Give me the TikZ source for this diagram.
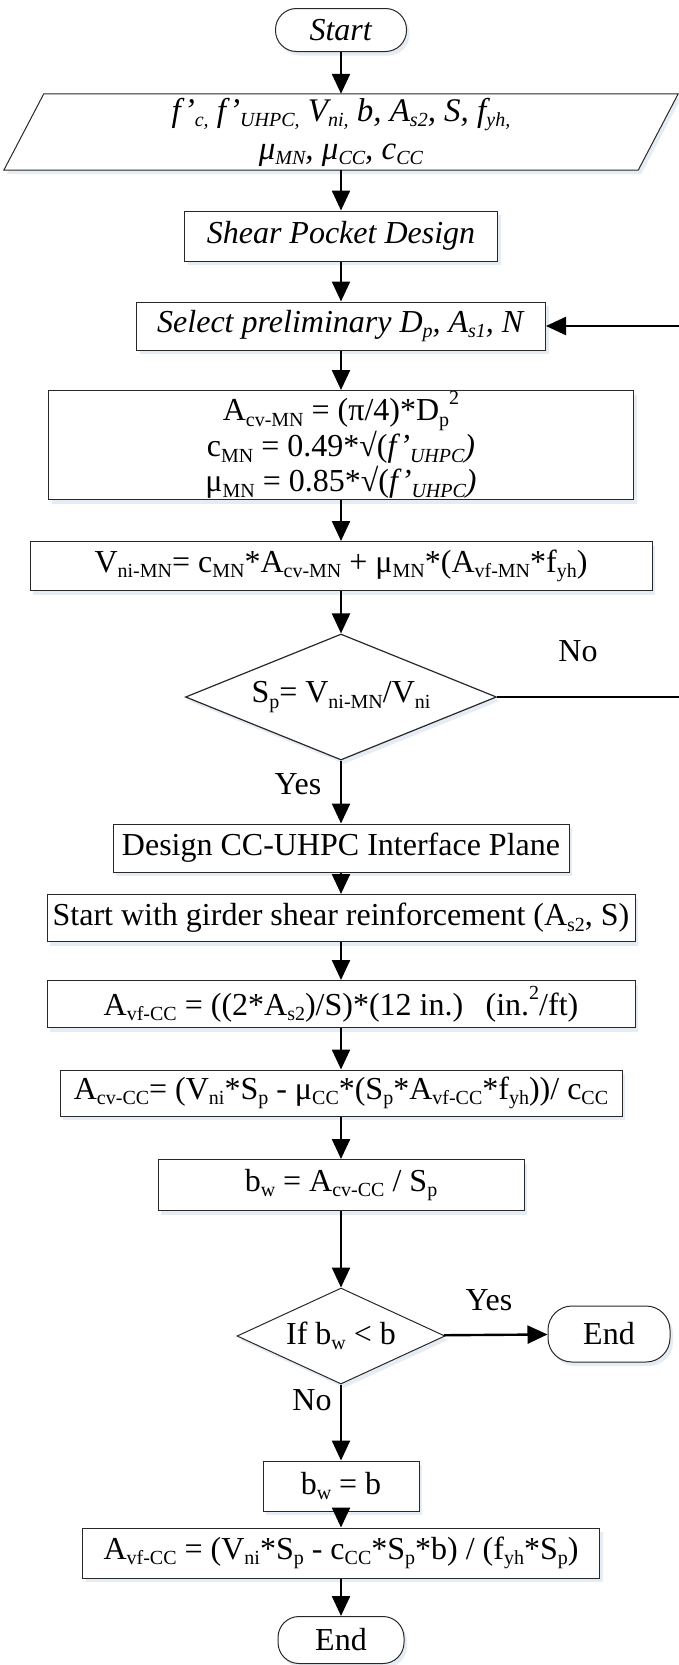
\documentclass[tikz,border=0pt]{standalone}
\usepackage{fontspec}
\setmainfont{Liberation Serif}
\usetikzlibrary{arrows.meta,shadows,backgrounds,calc,shapes.geometric}
\newcommand\dn[1]{\raisebox{-0.17em}{\fontsize{20}{20}\selectfont #1}}
\newcommand\upx[1]{\raisebox{0.5em}{\fontsize{20}{20}\selectfont #1}}
\definecolor{shadowc}{RGB}{200,212,228}
\definecolor{edgec}{RGB}{40,40,40}
\tikzset{
  myshadow/.style={drop shadow={shadow xshift=3pt, shadow yshift=-4pt, fill=shadowc, opacity=0.45}},
  base/.style={draw=edgec, line width=1pt, fill=white, inner sep=0pt, align=center,
    font=\fontsize{32}{36}\selectfont, myshadow},
  proc/.style={base, rectangle},
  term/.style={base, rounded corners=21pt},
  dec/.style={base, diamond, line width=1.2pt},
  flow/.style={line width=2.4pt, -{Triangle[length=20pt,width=18pt]}},
  plain/.style={line width=2.4pt},
  lab/.style={font=\fontsize{32}{36}\selectfont, inner sep=0pt},
}
\begin{document}
\begin{tikzpicture}[x=1pt,y=-1pt]
\useasboundingbox (0,0) rectangle (679,1665);

\node[term, minimum width=131pt, minimum height=43pt] (start) at (341,30) {\textit{Start}};

\node[inner sep=0pt, minimum width=634pt, minimum height=76pt, align=center,
  font=\fontsize{33}{38}\selectfont] (in) at (341,132)
  {\textit{f’\dn{c,} f’\dn{UHPC,} V\dn{ni,} b, A\dn{s2}, S, f\dn{yh,}}\\
   \textit{μ\dn{MN}, μ\dn{CC}, c\dn{CC}}};
\begin{scope}[on background layer]
\path[draw=edgec, line width=1pt, fill=white, myshadow]
  ($(in.south west)+(-20,0)$) -- ($(in.north west)+(20,0)$) --
  ($(in.north east)+(20,0)$) -- ($(in.south east)+(-20,0)$) -- cycle;
\end{scope}

\node[proc, minimum width=313pt, minimum height=50pt] (spd) at (341,236) {\textit{Shear Pocket Design}};
\node[proc, minimum width=409pt, minimum height=48pt] (sel) at (341,326)
  {\textit{Select preliminary D\dn{p}, A\dn{s1}, N}};
\node[proc, minimum width=585pt, minimum height=109pt, font=\fontsize{32}{35}\selectfont] (form) at (341,445)
  {A\dn{cv-MN} = (π/4)*D\dn{p}\upx{2}\\
   c\dn{MN} = 0.49*√(\textit{f’\dn{UHPC})}\\
   μ\dn{MN} = 0.85*√(\textit{f’\dn{UHPC})}};
\node[proc, minimum width=622pt, minimum height=49pt] (vni) at (341,566)
  {V\dn{ni-MN}= c\dn{MN}*A\dn{cv-MN} + μ\dn{MN}*(A\dn{vf-MN}*f\dn{yh})};
\node[dec, shape aspect=2.47, minimum width=311pt, minimum height=126pt] (d1) at (341,697)
  {S\dn{p}= V\dn{ni-MN}/V\dn{ni}};
\node[proc, minimum width=456pt, minimum height=48pt] (des) at (341,848)
  {Design CC-UHPC Interface Plane};
\node[proc, minimum width=588pt, minimum height=47pt] (gir) at (341,918)
  {Start with girder shear reinforcement (A\dn{s2}, S)};
\node[proc, minimum width=588pt, minimum height=47pt] (avf) at (341,1004)
  {A\dn{vf-CC} = ((2*A\dn{s2})/S)*(12 in.)\hspace{0.7em}(in.\upx{2}/ft)};
\node[proc, minimum width=562pt, minimum height=46pt] (acv) at (341,1093)
  {A\dn{cv-CC}= (V\dn{ni}*S\dn{p} - μ\dn{CC}*(S\dn{p}*A\dn{vf-CC}*f\dn{yh}))/ c\dn{CC}};
\node[proc, minimum width=366pt, minimum height=51pt] (bw) at (341,1185)
  {b\dn{w} = A\dn{cv-CC} / S\dn{p}};
\node[dec, shape aspect=2.17, minimum width=208pt, minimum height=96pt, line width=1pt] (d2) at (341,1336)
  {If b\dn{w} < b};
\node[term, minimum width=122pt, minimum height=56pt, rounded corners=24pt] (endr) at (609,1334) {End};
\node[proc, minimum width=156pt, minimum height=50pt] (bwb) at (341,1486) {b\dn{w} = b};
\node[proc, minimum width=517pt, minimum height=50pt] (fin) at (341,1553)
  {A\dn{vf-CC} = (V\dn{ni}*S\dn{p} - c\dn{CC}*S\dn{p}*b) / (f\dn{yh}*S\dn{p})};
\node[term, minimum width=126pt, minimum height=47pt] (end) at (341,1640) {End};

\coordinate (rt) at (682,697);

\draw[flow] (start) -- (in);
\draw[flow] (in) -- (spd);
\draw[flow] (spd) -- (sel);
\draw[flow] (sel) -- (form);
\draw[flow] (form) -- (vni);
\draw[flow] (vni) -- (d1);
\draw[flow] (d1) -- (des);
\draw[flow] (d1.east) -- (rt) |- (sel.east);
\draw[flow] (des) -- (gir);
\draw[flow] (gir) -- (avf);
\draw[flow] (avf) -- (acv);
\draw[flow] (acv) -- (bw);
\draw[flow] (bw) -- (d2);
\draw[flow] (d2) -- (endr);
\draw[flow] (d2) -- (bwb);
\draw[flow] (bwb) -- (fin);
\draw[flow] (fin) -- (end);

\node[lab] (no1) at (578,651) {No};
\node[lab] (yes1) at (298,784) {Yes};
\node[lab] (yes2) at (489,1300) {Yes};
\node[lab] (no2) at (312,1400) {No};
\end{tikzpicture}
\end{document}
